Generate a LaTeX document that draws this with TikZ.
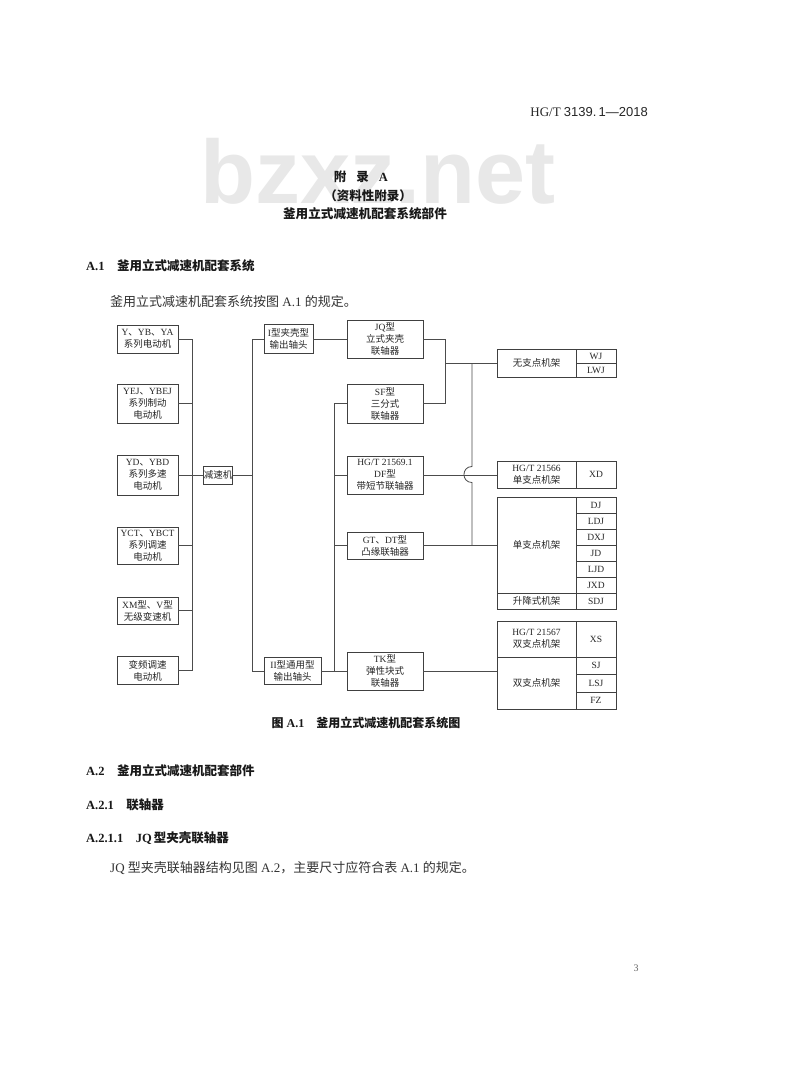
\documentclass[tikz,border=0pt]{standalone}
\usepackage{fontspec}
\setmainfont{Liberation Serif}
\setsansfont{Liberation Sans}
\newfontfamily\zh{Noto Sans CJK SC}
\newcommand\cnz[1]{{\zh #1}}
\newcommand\dgf{\fontsize{9.5}{12}\selectfont}
\begin{document}
\begin{tikzpicture}[x=1pt,y=-1pt,
  bx/.style={draw=black!75, line width=0.8pt, inner sep=0pt, align=center, font=\dgf, text=black!85},
  cell/.style={draw=black!75, line width=0.8pt, inner sep=0pt, align=center, font=\dgf, text=black!85},
  ln/.style={draw=black!70, line width=0.8pt},
  hd/.style={inner sep=0pt, text=black!90, font=\fontsize{12.5}{14}\selectfont\bfseries},
  bd/.style={inner sep=0pt, text=black!80, font=\fontsize{13}{15}\selectfont}]
\useasboundingbox[fill=white] (0,0) rectangle (800,1090);
% watermark
\node[anchor=base west, inner sep=0pt, font=\sffamily\bfseries\fontsize{90}{90}\selectfont, text=black!9] (wm) at (200,203) {bzxz.net};
% header texts
\node[anchor=base east, inner sep=0pt, text=black!85, font=\fontsize{13}{15}\selectfont] (hdr) at (648,116) {HG/T {\sffamily 3139.\,1—2018}};
\node[hd, anchor=base] (apx) at (361,181) {\cnz{\bfseries 附}\hspace{10pt}\cnz{\bfseries 录}\hspace{10pt}A};
\node[hd, anchor=base] (inf) at (368,200) {\cnz{\bfseries （资料性附录）}};
\node[hd, anchor=base, font=\fontsize{12.6}{14}\selectfont] (ttl) at (365,218) {\cnz{\bfseries 釜用立式减速机配套系统部件}};
\node[hd, anchor=base west] (s1) at (86,270) {A.1\quad\cnz{\bfseries 釜用立式减速机配套系统}};
\node[bd, anchor=base west] (p1) at (110,306) {\cnz{釜用立式减速机配套系统按图} A.1 \cnz{的规定。}};
% motors
\node[bx, minimum width=61pt, minimum height=28pt] (m1) at (147.5,339) {Y\cnz{、}YB\cnz{、}YA\\\cnz{系列电动机}};
\node[bx, minimum width=61pt, minimum height=39pt] (m2) at (147.5,403.5) {YEJ\cnz{、}YBEJ\\\cnz{系列制动}\\\cnz{电动机}};
\node[bx, minimum width=61pt, minimum height=40pt] (m3) at (147.5,475) {YD\cnz{、}YBD\\\cnz{系列多速}\\\cnz{电动机}};
\node[bx, minimum width=61pt, minimum height=37pt] (m4) at (147.5,545.5) {YCT\cnz{、}YBCT\\\cnz{系列调速}\\\cnz{电动机}};
\node[bx, minimum width=61pt, minimum height=27pt] (m5) at (147.5,610.5) {XM\cnz{型、}V\cnz{型}\\\cnz{无级变速机}};
\node[bx, minimum width=61pt, minimum height=28pt] (m6) at (147.5,670.5) {\cnz{变频调速}\\\cnz{电动机}};
\node[bx, minimum width=26pt, minimum height=18pt] (red) at (218,475) {\cnz{减速机}};
% output shafts
\node[bx, minimum width=49pt, minimum height=29pt] (o1) at (288.5,339) {I\cnz{型夹壳型}\\\cnz{输出轴头}};
\node[bx, minimum width=57pt, minimum height=27pt] (o2) at (292.5,671) {II\cnz{型通用型}\\\cnz{输出轴头}};
% couplings
\node[bx, minimum width=76pt, minimum height=38pt] (c1) at (385,339) {JQ\cnz{型}\\\cnz{立式夹壳}\\\cnz{联轴器}};
\node[bx, minimum width=76pt, minimum height=39pt] (c2) at (385,403.5) {SF\cnz{型}\\\cnz{三分式}\\\cnz{联轴器}};
\node[bx, minimum width=76pt, minimum height=38pt] (c3) at (385,475) {HG/T 21569.1\\DF\cnz{型}\\\cnz{带短节联轴器}};
\node[bx, minimum width=76pt, minimum height=27pt] (c4) at (385,545.5) {GT\cnz{、}DT\cnz{型}\\\cnz{凸缘联轴器}};
\node[bx, minimum width=76pt, minimum height=38pt] (c5) at (385,671) {TK\cnz{型}\\\cnz{弹性块式}\\\cnz{联轴器}};
% frames
\node[cell, minimum width=79pt, minimum height=28pt] (f1l) at (536.5,363) {\cnz{无支点机架}};
\node[cell, minimum width=40pt, minimum height=14pt] (wj) at (596,356) {WJ};
\node[cell, minimum width=40pt, minimum height=14pt] (lwj) at (596,370) {LWJ};
\node[cell, minimum width=79pt, minimum height=27pt] (f2l) at (536.5,474.5) {HG/T 21566\\\cnz{单支点机架}};
\node[cell, minimum width=40pt, minimum height=27pt] (xd) at (596,474.5) {XD};
\node[cell, minimum width=79pt, minimum height=96pt] (f3l) at (536.5,545) {\cnz{单支点机架}};
\node[cell, minimum width=79pt, minimum height=16pt] (f3s) at (536.5,601) {\cnz{升降式机架}};
\node[cell, minimum width=40pt, minimum height=16pt] (dj) at (596,505) {DJ};
\node[cell, minimum width=40pt, minimum height=16pt] (ldj) at (596,521) {LDJ};
\node[cell, minimum width=40pt, minimum height=16pt] (dxj) at (596,537) {DXJ};
\node[cell, minimum width=40pt, minimum height=16pt] (jd) at (596,553) {JD};
\node[cell, minimum width=40pt, minimum height=16pt] (ljd) at (596,569) {LJD};
\node[cell, minimum width=40pt, minimum height=16pt] (jxd) at (596,585) {JXD};
\node[cell, minimum width=40pt, minimum height=16pt] (sdj) at (596,601) {SDJ};
\node[cell, minimum width=79pt, minimum height=36pt] (f4t) at (536.5,639) {HG/T 21567\\\cnz{双支点机架}};
\node[cell, minimum width=40pt, minimum height=36pt] (xs) at (596,639) {XS};
\node[cell, minimum width=79pt, minimum height=52pt] (f4b) at (536.5,683) {\cnz{双支点机架}};
\node[cell, minimum width=40pt, minimum height=17pt] (sj) at (596,665.5) {SJ};
\node[cell, minimum width=40pt, minimum height=18pt] (lsj) at (596,683) {LSJ};
\node[cell, minimum width=40pt, minimum height=17pt] (fz) at (596,700.5) {FZ};
% connectors: motors to reducer
\coordinate (lbt) at (192,339);
\coordinate (lbb) at (192,670.5);
\draw[ln] (m1.east) -- (lbt) -- (lbb) -- (m6.east);
\draw[ln] (m2.east) -- (m2.east -| lbt);
\draw[ln] (m4.east) -- (m4.east -| lbt);
\draw[ln] (m5.east) -- (m5.east -| lbt);
\draw[ln] (m3.east) -- (red.west);
% reducer to output shafts
\coordinate (rbt) at (252,339);
\coordinate (rbb) at (252,671);
\draw[ln] (o1.west) -- (rbt) -- (rbb) -- (o2.west);
\draw[ln] (red.east) -- (red.east -| rbt);
\draw[ln] (o1.east) -- (c1.west);
\draw[ln] (o2.east) -- (c5.west);
% second bus
\coordinate (sbt) at (334,403.5);
\draw[ln] (c2.west) -- (sbt) -- (sbt |- c5.west);
\draw[ln] (c3.west) -- (c3.west -| sbt);
\draw[ln] (c4.west) -- (c4.west -| sbt);
% couplings to frames
\coordinate (ja) at (445,339);
\coordinate (jb) at (445,403.5);
\coordinate (jc) at (445,363);
\draw[ln] (c1.east) -- (ja) -- (jb) -- (c2.east);
\draw[ln] (jc) -- (f1l.west);
\coordinate (jd) at (472,363);
\coordinate (je) at (472,545.5);
\draw[ln] (jd) -- (472,466.5) .. controls (461.3,466.5) and (461.3,482.5) .. (472,482.5) -- (je) -- (c4.east);
\draw[ln] (c4.east) -- (c4.east -| f3l.west);
\draw[ln] (c3.east) -- (c3.east -| f2l.west);
\draw[ln] (c5.east) -- (c5.east -| f4b.west);
% caption and following text
\node[hd, anchor=base, font=\fontsize{12}{14}\selectfont\bfseries] (cap) at (366,727) {\cnz{\bfseries 图} A.1\quad\cnz{\bfseries 釜用立式减速机配套系统图}};
\node[hd, anchor=base west] (s2) at (86,775) {A.2\quad\cnz{\bfseries 釜用立式减速机配套部件}};
\node[hd, anchor=base west] (s21) at (86,809) {A.2.1\quad\cnz{\bfseries 联轴器}};
\node[hd, anchor=base west] (s211) at (86,842) {A.2.1.1\quad JQ\,\cnz{\bfseries 型夹壳联轴器}};
\node[bd, anchor=base west] (p2) at (110,872) {JQ \cnz{型夹壳联轴器结构见图} A.2\cnz{，主要尺寸应符合表} A.1 \cnz{的规定。}};
\node[bd, anchor=base, text=black!60, font=\fontsize{10}{12}\selectfont] (pg) at (636,971) {3};
\end{tikzpicture}
\end{document}
